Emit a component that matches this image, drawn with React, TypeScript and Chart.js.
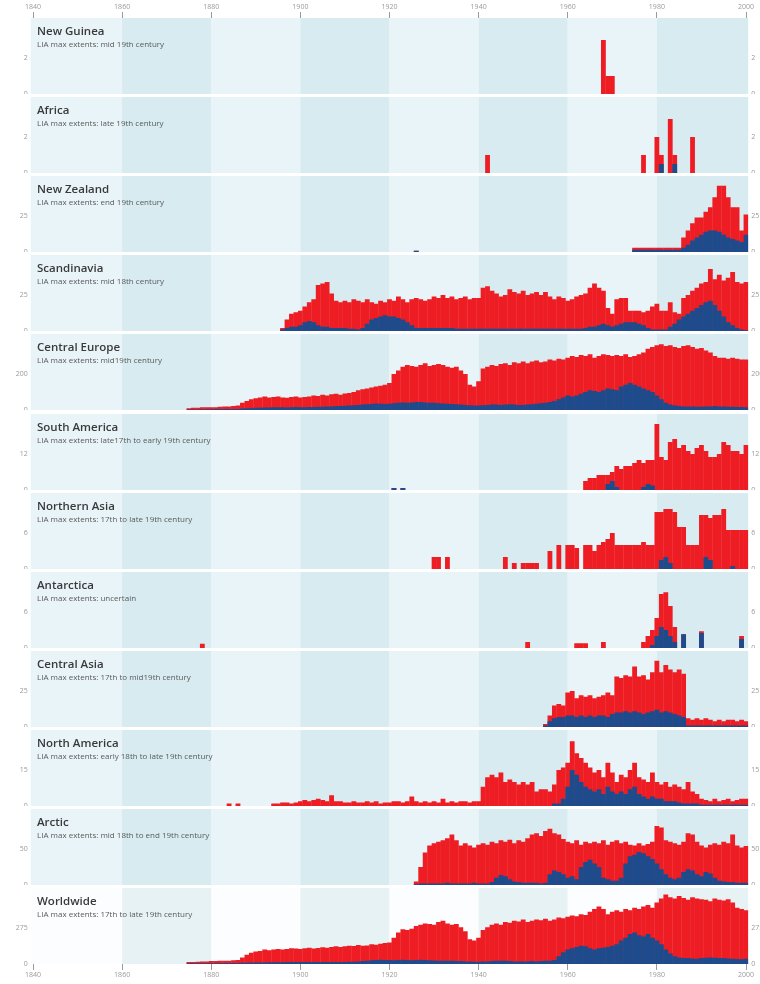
import React, { useEffect, useRef } from 'react';
import { Chart, registerables } from 'chart.js';
Chart.register(...registerables);

// ---------- axis ----------
const FIRST_YEAR = 1840;
const LAST_YEAR = 2000;
const YEARS = Array.from({ length: LAST_YEAR - FIRST_YEAR + 1 }, (_, i) => String(FIRST_YEAR + i));
const AXIS_YEARS = [1840, 1860, 1880, 1900, 1920, 1940, 1960, 1980, 2000];

// ---------- data (total glaciers observed = red, advancing = blue) ----------
const NG_YEARS = [1968, 1969, 1970];
const NG_TOTAL = [3, 1, 1];
const NG_ADV = [0, 0, 0];

const AF_YEARS = [1942, 1977, 1980, 1981, 1983, 1984, 1988];
const AF_TOTAL = [1, 1, 2, 1, 3, 1, 2];
const AF_ADV = [0, 0, 0, 0.5, 0, 0.5, 0];

const NZ_EARLY_YEARS = [1926];
const NZ_EARLY_TOTAL = [0.8];
const NZ_EARLY_ADV = [0.8];
const NZ_START = 1975;
const NZ_TOTAL = [3, 3, 3, 3, 3, 3, 3, 3, 3, 3, 3, 10, 15, 20, 24, 24, 28, 31, 38, 46, 46, 38, 31, 31, 15, 26];
const NZ_ADV = [1.5, 1.5, 1.5, 1.5, 1.5, 1.5, 1.5, 1.5, 1.5, 1.5, 1.5, 3, 5, 8, 10, 12, 14, 15, 15, 14, 12, 10, 9, 8, 7, 12];

const SC_START = 1896;
const SC_TOTAL = [
  2, 8, 12, 13,
  14, 17, 20, 22, 32, 33, 34, 26, 21, 20,
  21, 20, 22, 21, 20, 22, 20, 19, 21, 20,
  22, 21, 24, 22, 20, 22, 23, 22, 21, 22,
  24, 23, 25, 23, 24, 22, 23, 24, 22, 23,
  23, 30, 31, 28, 26, 24, 25, 29, 27, 26,
  28, 25, 26, 27, 25, 27, 24, 22, 24, 23,
  21, 22, 24, 25, 26, 30, 33, 30, 28, 16,
  12, 22, 23, 23, 14, 14, 14, 13, 14, 17,
  19, 14, 14, 20, 13, 12, 23, 25, 28, 30,
  33, 34, 43, 36, 39, 35, 37, 41, 34, 33,
  34,
];
const SC_ADV = [
  1, 2, 3, 3,
  4, 6, 7, 6, 4, 3, 3, 2, 2, 2,
  2, 1.5, 1.5, 1, 2, 5, 8, 9, 10, 11,
  10, 10, 9, 8, 6, 4, 2, 2, 2, 2,
  2, 2, 2, 2, 2, 1.5, 1.5, 1.5, 1.5, 1.5,
  1.5, 1.5, 1.5, 1.5, 1.5, 1.5, 1.5, 1.5, 1.5, 1.5,
  1.5, 1.5, 1.5, 1.5, 1.5, 1.5, 1.5, 1.5, 1.5, 1.5,
  1.5, 1.5, 1.5, 1.5, 2, 3, 3, 4, 5, 4,
  3, 4, 5, 6, 6, 6, 5, 4, 2, 1,
  1, 1, 1, 3, 5, 8, 10, 12, 14, 16,
  18, 20, 21, 18, 14, 10, 6, 4, 2, 1,
  0.5,
];

const CE_START = 1875;
const CE_TOTAL = [
  10, 12, 12, 15, 15, 15, 15, 18, 20, 20,
  22, 25, 40, 50, 60, 65, 70, 75, 70, 72,
  75, 70, 68, 72, 75, 70, 72, 75, 80, 78,
  85, 80, 88, 90, 85, 92, 95, 100, 110, 115,
  120, 125, 130, 135, 140, 150, 200, 220, 240, 250,
  245, 240, 250, 260, 245, 250, 255, 250, 240, 235,
  240, 220, 200, 140, 130, 160, 230, 240, 250, 245,
  255, 260, 250, 265, 260, 270, 260, 270, 275, 265,
  270, 280, 275, 285, 280, 290, 300, 295, 305, 300,
  310, 290, 300, 310, 305, 300, 305, 300, 310, 295,
  300, 310, 320, 340, 350, 360, 365, 355, 360, 350,
  345, 355, 360, 350, 340, 345, 330, 320, 300, 290,
  290, 285, 290, 285, 280, 280,
];
const CE_ADV = [
  3, 3, 3, 4, 4, 4, 5, 5, 5, 5, 6, 6, 8, 10, 10,
  12, 12, 14, 14, 15, 15, 15, 14, 15, 16, 15, 15, 16, 16, 18,
  18, 20, 20, 22, 22, 24, 25, 26, 28, 30, 32, 34, 36, 35, 34,
  35, 38, 40, 42, 40, 42, 45, 44, 42, 40, 40, 38, 36, 35, 34,
  32, 30, 28, 26, 25, 25, 26, 28, 30, 30, 28, 30, 32, 30, 28,
  28, 30, 32, 35, 38, 40, 45, 50, 60, 70, 80, 75, 80, 90, 100,
  110, 105, 100, 110, 120, 115, 110, 130, 140, 150, 140, 130, 120, 110, 100,
  80, 60, 40, 30, 25, 22, 20, 20, 20, 18, 18, 20, 20, 22, 20,
  20, 18, 18, 16, 16, 15,
];

const SA_EARLY_YEARS = [1921, 1923];
const SA_EARLY_TOTAL = [0.7, 0.7];
const SA_START = 1964;
const SA_TOTAL = [
  3, 4, 4, 5, 5, 5, 6, 8, 7, 8,
  8, 9, 10, 9, 10, 10, 22, 11, 10, 16,
  17, 14, 15, 13, 12, 14, 15, 13, 11, 11,
  12, 16, 15, 13, 13, 12, 15,
];
const SA_ADV_YEARS = [1921, 1923, 1969, 1970, 1971, 1977, 1978, 1979];
const SA_ADV = [0.7, 0.7, 2, 3, 1, 1, 2, 1.5];

const NA_START = 1930;
const NA_TOTAL = [
  2, 2, 0, 2, 0, 0, 0, 0, 0, 0,
  0, 0, 0, 0, 0, 0, 2, 0, 1, 0,
  1, 1, 1, 1, 0, 0, 3, 0, 4, 0,
  4, 4, 3.5, 0, 4, 4, 3, 4, 4.5, 5,
  6, 4, 4, 4, 4, 4, 4, 4.5, 4, 4,
  9.5, 9.5, 10, 10, 9.5, 7, 7, 4, 4, 4,
  9, 9, 8.5, 9, 9, 10, 6.5, 6.5, 6.5, 6.5,
  6.5,
];
const NA_ADV_START = 1980;
const NA_ADV = [0, 1.5, 2, 1, 0, 0, 0, 0, 0, 0, 0, 2, 1.5, 0, 0, 0, 0, 0.5, 0, 0, 0];

const AN_YEARS = [1878, 1951, 1962, 1963, 1964, 1968, 1977, 1978, 1979, 1980, 1981, 1982, 1983, 1984, 1986, 1990, 1999];
const AN_TOTAL = [0.7, 1, 0.8, 0.8, 0.8, 1, 1, 2, 3, 5, 9, 9.3, 7, 3.5, 2.3, 2.8, 2];
const AN_ADV = [0, 0, 0, 0, 0, 0, 0, 0, 0.5, 2, 3.5, 3, 2, 1, 2.3, 2.5, 1.5];

const CA_START = 1955;
const CA_TOTAL = [
  2, 8, 15, 16, 15, 24, 25, 20, 22, 21,
  22, 20, 21, 22, 24, 22, 35, 34, 36, 35,
  42, 35, 36, 33, 38, 46, 38, 43, 40, 38,
  40, 37, 6, 5, 6, 5, 6, 5, 4, 5,
  4, 5, 5, 4, 5, 4,
];
const CA_ADV = [
  1, 4, 6, 7, 7, 8, 8, 7, 8, 7,
  8, 7, 8, 8, 7, 9, 10, 10, 11, 10,
  11, 10, 9, 10, 11, 12, 10, 11, 10, 9,
  8, 7, 1, 1, 1, 1, 1, 1, 1, 1,
  1, 1, 1, 1, 1, 1,
];

const NM_EARLY_YEARS = [1884, 1886];
const NM_EARLY_TOTAL = [1, 1];
const NM_START = 1894;
const NM_TOTAL = [
  1, 1, 1.5, 1.5, 1, 1.5,
  2, 2.5, 2, 2.5, 3, 2.5, 2, 4.5, 2, 2,
  1.5, 1.5, 2, 1.5, 1.5, 2, 1.5, 2, 1, 1.5,
  1.5, 2, 2, 1.5, 2, 4, 2, 1.5, 2, 1.5,
  2, 1.5, 3, 1.5, 2, 1.5, 2, 2, 1.5, 2,
  2, 8, 12, 13, 12, 14, 10, 11, 10, 9,
  10, 9, 10, 6, 7, 7, 6, 9, 15, 16,
  18, 27, 22, 20, 18, 16, 14, 15, 12, 18,
  14, 10, 13, 12, 15, 18, 12, 11, 10, 14,
  10, 9, 10, 8, 9, 8, 7, 10, 6, 5,
  3, 2.5, 2, 3, 2, 2.5, 3, 2, 2.5, 3,
  3,
];
const NM_ADV_START = 1957;
const NM_ADV = [
  1, 1, 3,
  8, 15, 13, 10, 8, 7, 6, 7, 5, 8,
  6, 5, 6, 5, 7, 8, 5, 4, 3, 4,
  3, 3, 2, 2, 2, 1.5, 1, 1, 1, 1,
  0.5, 0.5, 0.5, 0.5, 0.5, 0.5, 0.5, 0.5, 0.5, 0.5, 0.5,
];

const AR_START = 1926;
const AR_TOTAL = [
  5, 25, 45, 55, 58, 60, 62, 65, 70, 62,
  55, 58, 55, 52, 56, 58, 56, 60, 58, 62,
  60, 63, 58, 62, 60, 65, 70, 72, 68, 75,
  78, 72, 70, 64, 60, 58, 62, 56, 60, 58,
  60, 58, 62, 56, 60, 62, 58, 60, 56, 55,
  58, 55, 57, 60, 82, 80, 62, 60, 58, 56,
  60, 72, 70, 60, 55, 52, 56, 58, 56, 60,
  58, 70, 55, 52, 54,
];
const AR_ADV = [
  1, 2, 2, 2, 2, 2, 2, 3, 2, 2,
  2, 2, 2, 3, 2, 2, 2, 4, 10, 14,
  12, 8, 5, 4, 3, 3, 3, 3, 2, 3,
  15, 20, 18, 15, 10, 12, 8, 25, 32, 35,
  30, 25, 10, 8, 6, 6, 10, 30, 40, 42,
  46, 44, 40, 36, 30, 22, 15, 10, 8, 10,
  18, 22, 20, 15, 12, 18, 16, 10, 6, 5,
  4, 4, 3, 3, 3,
];

const WW_START = 1875;
const WW_TOTAL = [
  15, 15, 18, 20, 20, 22, 22, 25, 25, 25,
  28, 30, 50, 70, 85, 95, 100, 110, 105, 110,
  115, 110, 115, 120, 118, 115, 120, 125, 118, 122,
  128, 125, 130, 135, 130, 135, 140, 138, 145, 140,
  142, 150, 148, 155, 160, 165, 200, 240, 265, 260,
  270, 290, 300, 310, 305, 300, 320, 330, 310, 300,
  305, 280, 250, 190, 180, 200, 260, 280, 300, 310,
  300, 320, 315, 330, 325, 340, 320, 330, 340, 335,
  345, 330, 340, 355, 350, 360, 370, 365, 380, 375,
  400, 420, 440, 420, 380, 400, 410, 400, 420, 410,
  430, 420, 440, 450, 430, 470, 500, 530, 510, 500,
  520, 505, 490, 510, 500, 495, 490, 480, 500, 490,
  485, 495, 470, 430, 420, 410,
];
const WW_ADV = [
  5, 5, 5, 5, 5, 6, 6, 8, 8, 8,
  8, 8, 10, 10, 12, 12, 12, 12, 14, 14,
  14, 14, 15, 15, 15, 15, 16, 16, 15, 15,
  16, 16, 15, 16, 15, 16, 18, 18, 20, 22,
  25, 28, 30, 32, 30, 30, 28, 30, 32, 30,
  28, 30, 32, 30, 28, 26, 25, 24, 25, 24,
  22, 22, 20, 20, 18, 18, 20, 20, 22, 24,
  25, 24, 22, 20, 20, 20, 20, 22, 20, 22,
  24, 25, 30, 60, 90, 110, 120, 130, 140, 135,
  120, 110, 120, 125, 130, 140, 150, 180, 200, 230,
  240, 220, 210, 230, 200, 180, 150, 110, 80, 60,
  50, 45, 45, 42, 40, 45, 48, 50, 48, 45,
  45, 42, 40, 38, 36, 40,
];

// ---------- builders ----------
const N = YEARS.length;
function byStart(start: number, vals: number[]): (number | null)[] {
  const out: (number | null)[] = new Array(N).fill(null);
  vals.forEach((v, i) => {
    const k = start - FIRST_YEAR + i;
    if (k >= 0 && k < N && v > 0) out[k] = v;
  });
  return out;
}
function byYears(years: number[], vals: number[]): (number | null)[] {
  const out: (number | null)[] = new Array(N).fill(null);
  years.forEach((y, i) => {
    const k = y - FIRST_YEAR;
    if (k >= 0 && k < N && vals[i] > 0) out[k] = vals[i];
  });
  return out;
}
function combine(...arrs: (number | null)[][]): (number | null)[] {
  return new Array(N).fill(null).map((_, i) => {
    for (const a of arrs) if (a[i] != null) return a[i];
    return null;
  });
}

type Region = { name: string; sub: string; tick: number; total: (number | null)[]; adv: (number | null)[]; world?: boolean };

const REGIONS: Region[] = [
  { name: 'New Guinea', sub: 'LIA max extents: mid 19th century', tick: 2, total: byYears(NG_YEARS, NG_TOTAL), adv: byYears(NG_YEARS, NG_ADV) },
  { name: 'Africa', sub: 'LIA max extents: late 19th century', tick: 2, total: byYears(AF_YEARS, AF_TOTAL), adv: byYears(AF_YEARS, AF_ADV) },
  { name: 'New Zealand', sub: 'LIA max extents: end 19th century', tick: 25, total: combine(byYears(NZ_EARLY_YEARS, NZ_EARLY_TOTAL), byStart(NZ_START, NZ_TOTAL)), adv: combine(byYears(NZ_EARLY_YEARS, NZ_EARLY_ADV), byStart(NZ_START, NZ_ADV)) },
  { name: 'Scandinavia', sub: 'LIA max extents: mid 18th century', tick: 25, total: byStart(SC_START, SC_TOTAL), adv: byStart(SC_START, SC_ADV) },
  { name: 'Central Europe', sub: 'LIA max extents: mid19th century', tick: 200, total: byStart(CE_START, CE_TOTAL), adv: byStart(CE_START, CE_ADV) },
  { name: 'South America', sub: 'LIA max extents: late17th to early 19th century', tick: 12, total: combine(byYears(SA_EARLY_YEARS, SA_EARLY_TOTAL), byStart(SA_START, SA_TOTAL)), adv: byYears(SA_ADV_YEARS, SA_ADV) },
  { name: 'Northern Asia', sub: 'LIA max extents: 17th to late 19th century', tick: 6, total: byStart(NA_START, NA_TOTAL), adv: byStart(NA_ADV_START, NA_ADV) },
  { name: 'Antarctica', sub: 'LIA max extents: uncertain', tick: 6, total: byYears(AN_YEARS, AN_TOTAL), adv: byYears(AN_YEARS, AN_ADV) },
  { name: 'Central Asia', sub: 'LIA max extents: 17th to mid19th century', tick: 25, total: byStart(CA_START, CA_TOTAL), adv: byStart(CA_START, CA_ADV) },
  { name: 'North America', sub: 'LIA max extents: early 18th to late 19th century', tick: 15, total: combine(byYears(NM_EARLY_YEARS, NM_EARLY_TOTAL), byStart(NM_START, NM_TOTAL)), adv: byStart(NM_ADV_START, NM_ADV) },
  { name: 'Arctic', sub: 'LIA max extents: mid 18th to end 19th century', tick: 50, total: byStart(AR_START, AR_TOTAL), adv: byStart(AR_START, AR_ADV) },
  { name: 'Worldwide', sub: 'LIA max extents: 17th to late 19th century', tick: 275, total: byStart(WW_START, WW_TOTAL), adv: byStart(WW_START, WW_ADV), world: true },
];

// ---------- layout ----------
const W = 760;
const H = 984;
const PLOT_H = 76;
const TICK_PX = 36;
const SPAN = 713; // 1840 -> 2000 in px
const PLOT_W = (SPAN * N) / (N - 1);
const LEFT_W = 33 - PLOT_W / (2 * N);
const RIGHT_W = W - LEFT_W - PLOT_W;
const bottoms = REGIONS.map((_, i) => Math.round(94 + i * 79.1));

const RED = '#ee1d24';
const BLUE = '#1e4b8c';
const FONT = '"Open Sans", "DejaVu Sans", sans-serif';

const bandPlugin = {
  id: 'bands',
  beforeDatasetsDraw(chart: any, _args: any, opts: any) {
    const { ctx, chartArea: a } = chart;
    const x = chart.scales.x;
    const edges = AXIS_YEARS.map((y) => x.getPixelForValue(y - FIRST_YEAR));
    edges[0] = a.left;
    edges[edges.length - 1] = a.right;
    ctx.save();
    for (let i = 0; i < edges.length - 1; i++) {
      ctx.fillStyle = i % 2 === 0 ? opts.light : opts.dark;
      ctx.fillRect(edges[i], a.top, edges[i + 1] - edges[i], a.bottom - a.top);
    }
    ctx.restore();
  },
};

function makeConfig(r: Region, idx: number, axisHeight: number): any {
  const first = idx === 0;
  const last = idx === REGIONS.length - 1;
  const ymax = (r.tick * PLOT_H) / TICK_PX;
  const yAxis = (pos: 'left' | 'right') => ({
    display: true,
    position: pos,
    min: 0,
    max: ymax,
    stacked: false,
    grid: { display: false, drawTicks: false, tickLength: 0 },
    border: { display: false },
    afterBuildTicks: (s: any) => {
      s.ticks = [{ value: 0 }, { value: r.tick }];
    },
    afterFit: (s: any) => {
      s.width = pos === 'left' ? LEFT_W : RIGHT_W;
      s.paddingTop = 0;
      s.paddingBottom = 0;
    },
    ticks: {
      font: { size: 7, family: FONT },
      color: '#9a9a9a',
      padding: 3,
      callback: (v: any) => String(v),
    },
  });
  return {
    type: 'bar',
    data: {
      labels: YEARS,
      datasets: [
        { label: 'Advancing', data: r.adv, backgroundColor: BLUE, borderWidth: 0, order: 0, barPercentage: 1.08, categoryPercentage: 1, yAxisID: 'y' },
        { label: 'Observed', data: r.total, backgroundColor: RED, borderWidth: 0, order: 1, barPercentage: 1.08, categoryPercentage: 1, yAxisID: 'y' },
        { label: 'right axis', data: YEARS.map(() => null), backgroundColor: RED, borderWidth: 0, order: 2, yAxisID: 'y2' },
      ],
    },
    options: {
      animation: false,
      responsive: false,
      maintainAspectRatio: false,
      layout: { padding: 0 },
      plugins: {
        legend: { display: false },
        tooltip: { enabled: false },
        bands: r.world ? { light: '#fbfdfe', dark: '#e7f2f5' } : { light: '#e9f4f8', dark: '#d7ebf0' },
      },
      scales: {
        x: {
          display: first || last,
          position: first ? 'top' : 'bottom',
          stacked: true,
          offset: true,
          grid: { display: true, drawOnChartArea: false, drawTicks: true, tickLength: 6, offset: false, color: '#9a9a9a', lineWidth: 1 },
          border: { display: false },
          afterBuildTicks: (s: any) => {
            s.ticks = s.ticks.filter((t: any) => (FIRST_YEAR + t.value) % 20 === 0);
          },
          afterFit: (s: any) => {
            s.height = axisHeight;
            s.paddingLeft = 0;
            s.paddingRight = 0;
          },
          ticks: {
            autoSkip: false,
            maxRotation: 0,
            minRotation: 0,
            padding: 1,
            font: { size: 7, family: FONT },
            color: '#9a9a9a',
            callback: (v: any) => String(FIRST_YEAR + Number(v)),
          },
        },
        y: yAxis('left'),
        y2: yAxis('right'),
      },
    },
    plugins: [bandPlugin],
  };
}

function canvasBox(i: number) {
  const bottom = bottoms[i];
  const top = bottom - PLOT_H;
  if (i === 0) return { top: 0, height: bottom, axis: top };
  if (i === REGIONS.length - 1) return { top, height: H - top, axis: H - bottom };
  return { top, height: PLOT_H, axis: 0 };
}

export default function App() {
  const refs = useRef<(HTMLCanvasElement | null)[]>([]);
  useEffect(() => {
    const charts = REGIONS.map((r, i) => {
      const c = refs.current[i]!;
      return new Chart(c, makeConfig(r, i, canvasBox(i).axis));
    });
    return () => charts.forEach((ch) => ch.destroy());
  }, []);

  return (
    <div style={{ position: 'absolute', left: 0, top: 0, width: W, height: H, background: '#fff', overflow: 'hidden', fontFamily: FONT }}>
      {REGIONS.map((r, i) => {
        const b = canvasBox(i);
        return (
          <canvas
            key={'c' + i}
            ref={(el) => {
              refs.current[i] = el;
            }}
            width={W}
            height={b.height}
            style={{ position: 'absolute', left: 0, top: b.top, width: W, height: b.height }}
          />
        );
      })}
      {REGIONS.map((r, i) => {
        const top = bottoms[i] - PLOT_H;
        return (
          <React.Fragment key={'t' + i}>
            <div style={{ position: 'absolute', left: 37, top: top + 6, fontSize: 11.5, lineHeight: '13px', fontWeight: 600, color: '#3a3a3a', whiteSpace: 'nowrap' }}>{r.name}</div>
            <div style={{ position: 'absolute', left: 37, top: top + 21, fontSize: 8, lineHeight: '10px', color: '#5a5a5a', whiteSpace: 'nowrap' }}>{r.sub}</div>
          </React.Fragment>
        );
      })}
    </div>
  );
}
